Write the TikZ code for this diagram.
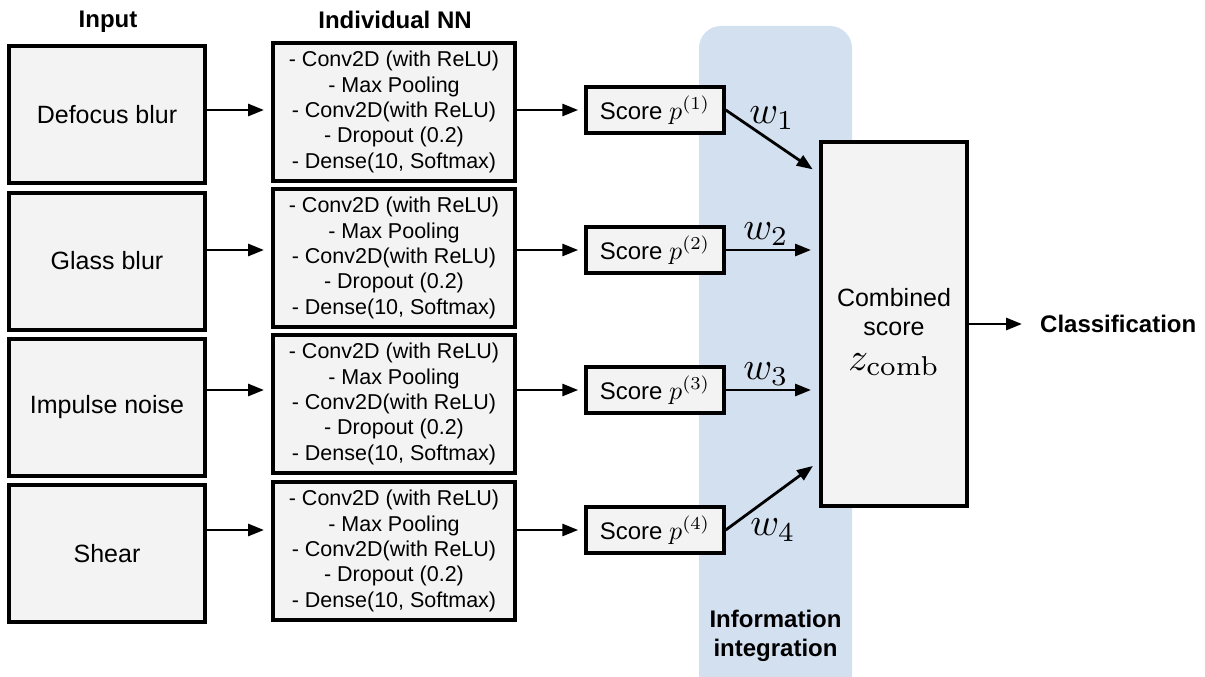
\documentclass[tikz,border=0pt]{standalone}
\usepackage{graphicx}
\usepackage[no-math]{fontspec}
\setmainfont{Liberation Sans}
\usetikzlibrary{arrows.meta,calc}
\definecolor{boxgray}{HTML}{F3F3F3}
\definecolor{bandblue}{RGB}{211,224,240}
% enlarged formulas, set at 10pt and scaled up
\newcommand{\mathat}[2]{\scalebox{#1}{\fontsize{10}{12}\selectfont$#2$}}
\newcommand{\scoremath}[1]{\mathat{2.6}{p^{(#1)}}}
\newcommand{\bigmath}[1]{\mathat{3.9}{#1}}
\begin{document}
\begin{tikzpicture}[x=1pt,y=-1pt,
  base/.style={font=\fontsize{25}{29}\selectfont},
  inbox/.style={base,draw,line width=4pt,fill=boxgray,minimum width=196pt,minimum height=137pt,inner sep=0pt},
  nnbox/.style={draw,line width=4pt,fill=boxgray,minimum width=242pt,minimum height=138pt,inner sep=0pt,
    align=center,font=\fontsize{21.5}{25.4}\selectfont},
  scorebox/.style={font=\fontsize{24}{28}\selectfont,draw,line width=3.5pt,fill=boxgray,minimum width=138pt,minimum height=46pt,inner sep=0pt},
  combbox/.style={base,draw,line width=4pt,fill=boxgray,minimum width=146pt,minimum height=364pt,inner sep=0pt,align=center},
  head/.style={font=\fontsize{24}{29}\selectfont\bfseries,align=center},
  wlab/.style={inner sep=0pt},
  arr/.style={line width=2.8pt,-{Triangle[length=16pt,width=12pt]}},
]
\useasboundingbox (0,0) rectangle (1205,677);

% integration band
\fill[bandblue,rounded corners=22pt] (699,26) rectangle (852,700);
\node[head] (band) at (775.5,636) {Information\\integration};

% column headers
\node[head] (hin) at (108,22) {Input};
\node[head] (hnn) at (395,20) {Individual NN};

% inputs
\node[inbox] (in1) at (107,114.5) {Defocus blur};
\node[inbox] (in2) at (107,261) {Glass blur};
\node[inbox] (in3) at (107,407) {Impulse noise};
\node[inbox] (in4) at (107,553.5) {Shear};

% individual networks
\foreach \i/\y in {1/112,2/258,3/404,4/551}{
  \node[nnbox] (nn\i) at (394,\y) {- Conv2D (with ReLU)\\- Max Pooling\\- Conv2D(with ReLU)\\- Dropout (0.2)\\- Dense(10, Softmax)};
}

% scores
\node[scorebox] (s1) at (655,110) {Score \scoremath{1}};
\node[scorebox] (s2) at (655,250) {Score \scoremath{2}};
\node[scorebox] (s3) at (655,390) {Score \scoremath{3}};
\node[scorebox] (s4) at (655,530) {Score \scoremath{4}};

% combined score
\node[combbox] (comb) at (894,324) {\rule{0pt}{34pt}Combined\\score\\[6pt]\bigmath{z_{\mathrm{comb}}}};
\node[head,anchor=west,inner sep=0pt] (cls) at (1040,324) {Classification};

% connectors
\foreach \i in {1,2,3,4}{
  \draw[arr,shorten >=7pt] (in\i.east |- s\i) -- (nn\i.west |- s\i);
  \draw[arr,shorten >=6pt] (nn\i.east |- s\i) -- (s\i.west);
}
\coordinate (c1) at (821,175);
\coordinate (c4) at (821,460);
\draw[arr,shorten >=10pt] (s1.east) -- (c1);
\draw[arr,shorten >=8pt] (s2.east) -- (comb.west |- s2);
\draw[arr,shorten >=8pt] (s3.east) -- (comb.west |- s3);
\draw[arr,shorten >=10pt] (s4.east) -- (c4);
\draw[arr,shorten >=18pt] (comb.east) -- (cls.west);

% weights
\node[wlab] (w1) at (772,118) {\bigmath{w_1}};
\node[wlab] (w2) at (766,234) {\bigmath{w_2}};
\node[wlab] (w3) at (766,374) {\bigmath{w_3}};
\node[wlab] (w4) at (773,530) {\bigmath{w_4}};
\end{tikzpicture}
\end{document}
